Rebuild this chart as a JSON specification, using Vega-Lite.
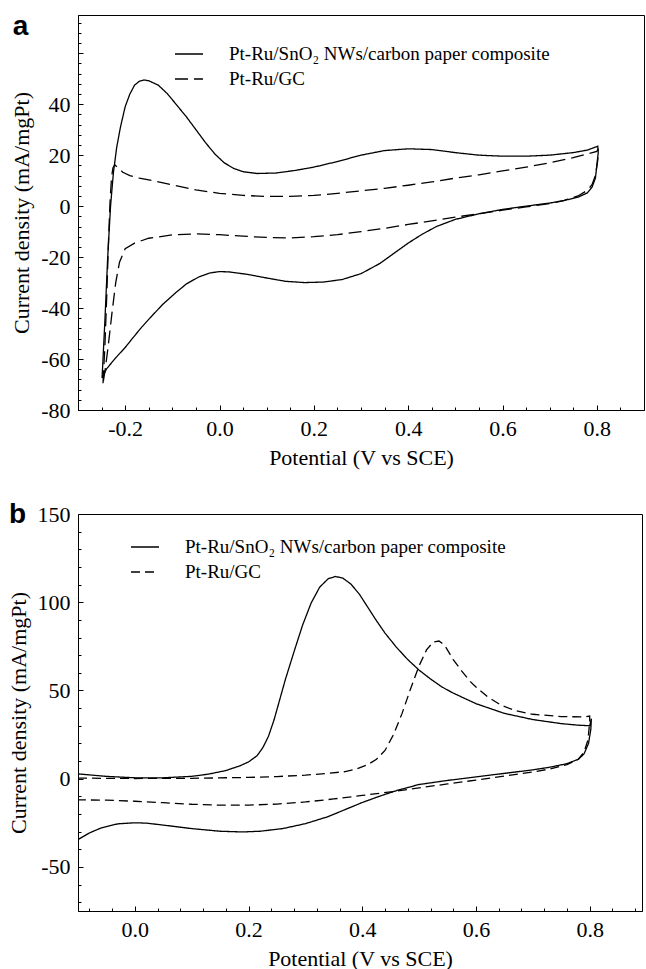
{
  "$schema": "https://vega.github.io/schema/vega-lite/v6.json",
  "padding": {"left": 6, "top": 12, "right": 0, "bottom": 0},
  "background": "white",
  "config": {
    "font": "Liberation Serif",
    "view": {"stroke": "black", "strokeWidth": 1},
    "axis": {"grid": false, "domainColor": "black", "domainWidth": 1, "tickColor": "black", "tickWidth": 1, "labelColor": "black", "titleColor": "black", "labelFont": "Liberation Serif", "titleFont": "Liberation Serif", "labelFontSize": 22, "titleFontSize": 22, "titleFontWeight": "normal", "labelPadding": 13},
    "legend": {"orient": "none", "title": null, "symbolType": "stroke", "symbolSize": 784, "symbolStrokeWidth": 1.3, "symbolStrokeColor": "black", "labelFont": "Liberation Serif", "labelFontSize": 19, "labelColor": "black", "labelOffset": 25, "rowPadding": 0, "padding": 0, "labelLimit": 0},
    "title": {"font": "Liberation Sans", "fontSize": 28, "fontWeight": "bold", "anchor": "start", "frame": "bounds", "color": "black", "offset": -26, "dx": 2}
  },
  "datasets": {
    "a": [
      {"s": "Pt-Ru/SnO₂ NWs/carbon paper composite", "i": 1, "v": -0.249, "c": -67.5},
      {"s": "Pt-Ru/SnO₂ NWs/carbon paper composite", "i": 2, "v": -0.243, "c": -45},
      {"s": "Pt-Ru/SnO₂ NWs/carbon paper composite", "i": 3, "v": -0.237, "c": -20},
      {"s": "Pt-Ru/SnO₂ NWs/carbon paper composite", "i": 4, "v": -0.231, "c": 0},
      {"s": "Pt-Ru/SnO₂ NWs/carbon paper composite", "i": 5, "v": -0.225, "c": 13},
      {"s": "Pt-Ru/SnO₂ NWs/carbon paper composite", "i": 6, "v": -0.218, "c": 23},
      {"s": "Pt-Ru/SnO₂ NWs/carbon paper composite", "i": 7, "v": -0.21, "c": 31},
      {"s": "Pt-Ru/SnO₂ NWs/carbon paper composite", "i": 8, "v": -0.2, "c": 39},
      {"s": "Pt-Ru/SnO₂ NWs/carbon paper composite", "i": 9, "v": -0.19, "c": 44},
      {"s": "Pt-Ru/SnO₂ NWs/carbon paper composite", "i": 10, "v": -0.18, "c": 47.5},
      {"s": "Pt-Ru/SnO₂ NWs/carbon paper composite", "i": 11, "v": -0.17, "c": 49},
      {"s": "Pt-Ru/SnO₂ NWs/carbon paper composite", "i": 12, "v": -0.16, "c": 49.5},
      {"s": "Pt-Ru/SnO₂ NWs/carbon paper composite", "i": 13, "v": -0.15, "c": 49.2},
      {"s": "Pt-Ru/SnO₂ NWs/carbon paper composite", "i": 14, "v": -0.13, "c": 47.5},
      {"s": "Pt-Ru/SnO₂ NWs/carbon paper composite", "i": 15, "v": -0.11, "c": 44},
      {"s": "Pt-Ru/SnO₂ NWs/carbon paper composite", "i": 16, "v": -0.09, "c": 39.5},
      {"s": "Pt-Ru/SnO₂ NWs/carbon paper composite", "i": 17, "v": -0.07, "c": 35},
      {"s": "Pt-Ru/SnO₂ NWs/carbon paper composite", "i": 18, "v": -0.05, "c": 30},
      {"s": "Pt-Ru/SnO₂ NWs/carbon paper composite", "i": 19, "v": -0.03, "c": 25},
      {"s": "Pt-Ru/SnO₂ NWs/carbon paper composite", "i": 20, "v": -0.01, "c": 20.5},
      {"s": "Pt-Ru/SnO₂ NWs/carbon paper composite", "i": 21, "v": 0.01, "c": 17},
      {"s": "Pt-Ru/SnO₂ NWs/carbon paper composite", "i": 22, "v": 0.03, "c": 14.8},
      {"s": "Pt-Ru/SnO₂ NWs/carbon paper composite", "i": 23, "v": 0.05, "c": 13.5},
      {"s": "Pt-Ru/SnO₂ NWs/carbon paper composite", "i": 24, "v": 0.08, "c": 12.8},
      {"s": "Pt-Ru/SnO₂ NWs/carbon paper composite", "i": 25, "v": 0.12, "c": 13},
      {"s": "Pt-Ru/SnO₂ NWs/carbon paper composite", "i": 26, "v": 0.16, "c": 14},
      {"s": "Pt-Ru/SnO₂ NWs/carbon paper composite", "i": 27, "v": 0.2, "c": 15.3},
      {"s": "Pt-Ru/SnO₂ NWs/carbon paper composite", "i": 28, "v": 0.25, "c": 17.5},
      {"s": "Pt-Ru/SnO₂ NWs/carbon paper composite", "i": 29, "v": 0.3, "c": 20},
      {"s": "Pt-Ru/SnO₂ NWs/carbon paper composite", "i": 30, "v": 0.35, "c": 21.8},
      {"s": "Pt-Ru/SnO₂ NWs/carbon paper composite", "i": 31, "v": 0.4, "c": 22.5},
      {"s": "Pt-Ru/SnO₂ NWs/carbon paper composite", "i": 32, "v": 0.45, "c": 22.2},
      {"s": "Pt-Ru/SnO₂ NWs/carbon paper composite", "i": 33, "v": 0.5, "c": 21},
      {"s": "Pt-Ru/SnO₂ NWs/carbon paper composite", "i": 34, "v": 0.55, "c": 20},
      {"s": "Pt-Ru/SnO₂ NWs/carbon paper composite", "i": 35, "v": 0.6, "c": 19.6},
      {"s": "Pt-Ru/SnO₂ NWs/carbon paper composite", "i": 36, "v": 0.65, "c": 19.6},
      {"s": "Pt-Ru/SnO₂ NWs/carbon paper composite", "i": 37, "v": 0.7, "c": 20},
      {"s": "Pt-Ru/SnO₂ NWs/carbon paper composite", "i": 38, "v": 0.75, "c": 21},
      {"s": "Pt-Ru/SnO₂ NWs/carbon paper composite", "i": 39, "v": 0.78, "c": 22},
      {"s": "Pt-Ru/SnO₂ NWs/carbon paper composite", "i": 40, "v": 0.802, "c": 23.5},
      {"s": "Pt-Ru/SnO₂ NWs/carbon paper composite", "i": 41, "v": 0.803, "c": 21},
      {"s": "Pt-Ru/SnO₂ NWs/carbon paper composite", "i": 42, "v": 0.8, "c": 16},
      {"s": "Pt-Ru/SnO₂ NWs/carbon paper composite", "i": 43, "v": 0.797, "c": 11},
      {"s": "Pt-Ru/SnO₂ NWs/carbon paper composite", "i": 44, "v": 0.79, "c": 7.5},
      {"s": "Pt-Ru/SnO₂ NWs/carbon paper composite", "i": 45, "v": 0.78, "c": 5.2},
      {"s": "Pt-Ru/SnO₂ NWs/carbon paper composite", "i": 46, "v": 0.76, "c": 3.5},
      {"s": "Pt-Ru/SnO₂ NWs/carbon paper composite", "i": 47, "v": 0.73, "c": 2.2},
      {"s": "Pt-Ru/SnO₂ NWs/carbon paper composite", "i": 48, "v": 0.7, "c": 1.2},
      {"s": "Pt-Ru/SnO₂ NWs/carbon paper composite", "i": 49, "v": 0.65, "c": 0},
      {"s": "Pt-Ru/SnO₂ NWs/carbon paper composite", "i": 50, "v": 0.6, "c": -1.3},
      {"s": "Pt-Ru/SnO₂ NWs/carbon paper composite", "i": 51, "v": 0.55, "c": -3},
      {"s": "Pt-Ru/SnO₂ NWs/carbon paper composite", "i": 52, "v": 0.5, "c": -5.2},
      {"s": "Pt-Ru/SnO₂ NWs/carbon paper composite", "i": 53, "v": 0.46, "c": -8},
      {"s": "Pt-Ru/SnO₂ NWs/carbon paper composite", "i": 54, "v": 0.43, "c": -11},
      {"s": "Pt-Ru/SnO₂ NWs/carbon paper composite", "i": 55, "v": 0.4, "c": -14.5},
      {"s": "Pt-Ru/SnO₂ NWs/carbon paper composite", "i": 56, "v": 0.37, "c": -18.5},
      {"s": "Pt-Ru/SnO₂ NWs/carbon paper composite", "i": 57, "v": 0.34, "c": -22.5},
      {"s": "Pt-Ru/SnO₂ NWs/carbon paper composite", "i": 58, "v": 0.3, "c": -26.5},
      {"s": "Pt-Ru/SnO₂ NWs/carbon paper composite", "i": 59, "v": 0.26, "c": -28.8},
      {"s": "Pt-Ru/SnO₂ NWs/carbon paper composite", "i": 60, "v": 0.22, "c": -29.8},
      {"s": "Pt-Ru/SnO₂ NWs/carbon paper composite", "i": 61, "v": 0.18, "c": -30},
      {"s": "Pt-Ru/SnO₂ NWs/carbon paper composite", "i": 62, "v": 0.14, "c": -29.5},
      {"s": "Pt-Ru/SnO₂ NWs/carbon paper composite", "i": 63, "v": 0.1, "c": -28.2},
      {"s": "Pt-Ru/SnO₂ NWs/carbon paper composite", "i": 64, "v": 0.06, "c": -26.8},
      {"s": "Pt-Ru/SnO₂ NWs/carbon paper composite", "i": 65, "v": 0.02, "c": -25.8},
      {"s": "Pt-Ru/SnO₂ NWs/carbon paper composite", "i": 66, "v": 0.0, "c": -25.7},
      {"s": "Pt-Ru/SnO₂ NWs/carbon paper composite", "i": 67, "v": -0.02, "c": -26.2},
      {"s": "Pt-Ru/SnO₂ NWs/carbon paper composite", "i": 68, "v": -0.044, "c": -27.8},
      {"s": "Pt-Ru/SnO₂ NWs/carbon paper composite", "i": 69, "v": -0.07, "c": -30.5},
      {"s": "Pt-Ru/SnO₂ NWs/carbon paper composite", "i": 70, "v": -0.093, "c": -34},
      {"s": "Pt-Ru/SnO₂ NWs/carbon paper composite", "i": 71, "v": -0.12, "c": -38.5},
      {"s": "Pt-Ru/SnO₂ NWs/carbon paper composite", "i": 72, "v": -0.143, "c": -43},
      {"s": "Pt-Ru/SnO₂ NWs/carbon paper composite", "i": 73, "v": -0.165, "c": -47.5},
      {"s": "Pt-Ru/SnO₂ NWs/carbon paper composite", "i": 74, "v": -0.185, "c": -52},
      {"s": "Pt-Ru/SnO₂ NWs/carbon paper composite", "i": 75, "v": -0.2, "c": -55.5},
      {"s": "Pt-Ru/SnO₂ NWs/carbon paper composite", "i": 76, "v": -0.22, "c": -59.5},
      {"s": "Pt-Ru/SnO₂ NWs/carbon paper composite", "i": 77, "v": -0.24, "c": -64},
      {"s": "Pt-Ru/SnO₂ NWs/carbon paper composite", "i": 78, "v": -0.249, "c": -67.5},
      {"s": "Pt-Ru/GC", "i": 1, "v": -0.247, "c": -69.5},
      {"s": "Pt-Ru/GC", "i": 2, "v": -0.243, "c": -55},
      {"s": "Pt-Ru/GC", "i": 3, "v": -0.239, "c": -35},
      {"s": "Pt-Ru/GC", "i": 4, "v": -0.235, "c": -12},
      {"s": "Pt-Ru/GC", "i": 5, "v": -0.232, "c": 2},
      {"s": "Pt-Ru/GC", "i": 6, "v": -0.229, "c": 11},
      {"s": "Pt-Ru/GC", "i": 7, "v": -0.226, "c": 15},
      {"s": "Pt-Ru/GC", "i": 8, "v": -0.222, "c": 16.2},
      {"s": "Pt-Ru/GC", "i": 9, "v": -0.215, "c": 15},
      {"s": "Pt-Ru/GC", "i": 10, "v": -0.205, "c": 13.3},
      {"s": "Pt-Ru/GC", "i": 11, "v": -0.19, "c": 12},
      {"s": "Pt-Ru/GC", "i": 12, "v": -0.17, "c": 11},
      {"s": "Pt-Ru/GC", "i": 13, "v": -0.15, "c": 10.3},
      {"s": "Pt-Ru/GC", "i": 14, "v": -0.1, "c": 8.3},
      {"s": "Pt-Ru/GC", "i": 15, "v": -0.05, "c": 6.4},
      {"s": "Pt-Ru/GC", "i": 16, "v": 0.0, "c": 5},
      {"s": "Pt-Ru/GC", "i": 17, "v": 0.05, "c": 4.2},
      {"s": "Pt-Ru/GC", "i": 18, "v": 0.1, "c": 3.8},
      {"s": "Pt-Ru/GC", "i": 19, "v": 0.15, "c": 3.8},
      {"s": "Pt-Ru/GC", "i": 20, "v": 0.2, "c": 4.2},
      {"s": "Pt-Ru/GC", "i": 21, "v": 0.25, "c": 5},
      {"s": "Pt-Ru/GC", "i": 22, "v": 0.3, "c": 6},
      {"s": "Pt-Ru/GC", "i": 23, "v": 0.35, "c": 7},
      {"s": "Pt-Ru/GC", "i": 24, "v": 0.4, "c": 8.2},
      {"s": "Pt-Ru/GC", "i": 25, "v": 0.45, "c": 9.5},
      {"s": "Pt-Ru/GC", "i": 26, "v": 0.5, "c": 11},
      {"s": "Pt-Ru/GC", "i": 27, "v": 0.55, "c": 12.3},
      {"s": "Pt-Ru/GC", "i": 28, "v": 0.6, "c": 13.8},
      {"s": "Pt-Ru/GC", "i": 29, "v": 0.65, "c": 15.3},
      {"s": "Pt-Ru/GC", "i": 30, "v": 0.7, "c": 17},
      {"s": "Pt-Ru/GC", "i": 31, "v": 0.75, "c": 19},
      {"s": "Pt-Ru/GC", "i": 32, "v": 0.8, "c": 21.5},
      {"s": "Pt-Ru/GC", "i": 33, "v": 0.803, "c": 22.5},
      {"s": "Pt-Ru/GC", "i": 34, "v": 0.802, "c": 18},
      {"s": "Pt-Ru/GC", "i": 35, "v": 0.797, "c": 12},
      {"s": "Pt-Ru/GC", "i": 36, "v": 0.79, "c": 8.5},
      {"s": "Pt-Ru/GC", "i": 37, "v": 0.78, "c": 6.2},
      {"s": "Pt-Ru/GC", "i": 38, "v": 0.76, "c": 4},
      {"s": "Pt-Ru/GC", "i": 39, "v": 0.73, "c": 2.2},
      {"s": "Pt-Ru/GC", "i": 40, "v": 0.7, "c": 1},
      {"s": "Pt-Ru/GC", "i": 41, "v": 0.65, "c": -0.3},
      {"s": "Pt-Ru/GC", "i": 42, "v": 0.6, "c": -1.6},
      {"s": "Pt-Ru/GC", "i": 43, "v": 0.55, "c": -3},
      {"s": "Pt-Ru/GC", "i": 44, "v": 0.5, "c": -4.3},
      {"s": "Pt-Ru/GC", "i": 45, "v": 0.45, "c": -5.8},
      {"s": "Pt-Ru/GC", "i": 46, "v": 0.4, "c": -7.2},
      {"s": "Pt-Ru/GC", "i": 47, "v": 0.35, "c": -8.7},
      {"s": "Pt-Ru/GC", "i": 48, "v": 0.3, "c": -10},
      {"s": "Pt-Ru/GC", "i": 49, "v": 0.25, "c": -11.2},
      {"s": "Pt-Ru/GC", "i": 50, "v": 0.2, "c": -12},
      {"s": "Pt-Ru/GC", "i": 51, "v": 0.15, "c": -12.5},
      {"s": "Pt-Ru/GC", "i": 52, "v": 0.1, "c": -12.3},
      {"s": "Pt-Ru/GC", "i": 53, "v": 0.05, "c": -11.8},
      {"s": "Pt-Ru/GC", "i": 54, "v": 0.0, "c": -11.2},
      {"s": "Pt-Ru/GC", "i": 55, "v": -0.05, "c": -10.9},
      {"s": "Pt-Ru/GC", "i": 56, "v": -0.1, "c": -11.3},
      {"s": "Pt-Ru/GC", "i": 57, "v": -0.15, "c": -12.6},
      {"s": "Pt-Ru/GC", "i": 58, "v": -0.18, "c": -14.5},
      {"s": "Pt-Ru/GC", "i": 59, "v": -0.2, "c": -16.7},
      {"s": "Pt-Ru/GC", "i": 60, "v": -0.212, "c": -22},
      {"s": "Pt-Ru/GC", "i": 61, "v": -0.22, "c": -30},
      {"s": "Pt-Ru/GC", "i": 62, "v": -0.228, "c": -42},
      {"s": "Pt-Ru/GC", "i": 63, "v": -0.236, "c": -55},
      {"s": "Pt-Ru/GC", "i": 64, "v": -0.243, "c": -65},
      {"s": "Pt-Ru/GC", "i": 65, "v": -0.247, "c": -69.5}
    ],
    "b": [
      {"s": "Pt-Ru/SnO₂ NWs/carbon paper composite", "i": 1, "v": -0.1, "c": 2.7},
      {"s": "Pt-Ru/SnO₂ NWs/carbon paper composite", "i": 2, "v": -0.05, "c": 1.3},
      {"s": "Pt-Ru/SnO₂ NWs/carbon paper composite", "i": 3, "v": 0.0, "c": 0.5},
      {"s": "Pt-Ru/SnO₂ NWs/carbon paper composite", "i": 4, "v": 0.05, "c": 0.5},
      {"s": "Pt-Ru/SnO₂ NWs/carbon paper composite", "i": 5, "v": 0.1, "c": 1.3},
      {"s": "Pt-Ru/SnO₂ NWs/carbon paper composite", "i": 6, "v": 0.13, "c": 2.6},
      {"s": "Pt-Ru/SnO₂ NWs/carbon paper composite", "i": 7, "v": 0.16, "c": 4.6},
      {"s": "Pt-Ru/SnO₂ NWs/carbon paper composite", "i": 8, "v": 0.185, "c": 7.3},
      {"s": "Pt-Ru/SnO₂ NWs/carbon paper composite", "i": 9, "v": 0.2, "c": 9.5},
      {"s": "Pt-Ru/SnO₂ NWs/carbon paper composite", "i": 10, "v": 0.215, "c": 13},
      {"s": "Pt-Ru/SnO₂ NWs/carbon paper composite", "i": 11, "v": 0.225, "c": 17.5},
      {"s": "Pt-Ru/SnO₂ NWs/carbon paper composite", "i": 12, "v": 0.235, "c": 24},
      {"s": "Pt-Ru/SnO₂ NWs/carbon paper composite", "i": 13, "v": 0.245, "c": 33.5},
      {"s": "Pt-Ru/SnO₂ NWs/carbon paper composite", "i": 14, "v": 0.255, "c": 45},
      {"s": "Pt-Ru/SnO₂ NWs/carbon paper composite", "i": 15, "v": 0.265, "c": 56.5},
      {"s": "Pt-Ru/SnO₂ NWs/carbon paper composite", "i": 16, "v": 0.28, "c": 72},
      {"s": "Pt-Ru/SnO₂ NWs/carbon paper composite", "i": 17, "v": 0.295, "c": 87},
      {"s": "Pt-Ru/SnO₂ NWs/carbon paper composite", "i": 18, "v": 0.31, "c": 99.5},
      {"s": "Pt-Ru/SnO₂ NWs/carbon paper composite", "i": 19, "v": 0.325, "c": 108.5},
      {"s": "Pt-Ru/SnO₂ NWs/carbon paper composite", "i": 20, "v": 0.34, "c": 113.3},
      {"s": "Pt-Ru/SnO₂ NWs/carbon paper composite", "i": 21, "v": 0.353, "c": 114.6},
      {"s": "Pt-Ru/SnO₂ NWs/carbon paper composite", "i": 22, "v": 0.366, "c": 113.6},
      {"s": "Pt-Ru/SnO₂ NWs/carbon paper composite", "i": 23, "v": 0.38, "c": 110.3},
      {"s": "Pt-Ru/SnO₂ NWs/carbon paper composite", "i": 24, "v": 0.395, "c": 104.5},
      {"s": "Pt-Ru/SnO₂ NWs/carbon paper composite", "i": 25, "v": 0.41, "c": 97},
      {"s": "Pt-Ru/SnO₂ NWs/carbon paper composite", "i": 26, "v": 0.425, "c": 89.5},
      {"s": "Pt-Ru/SnO₂ NWs/carbon paper composite", "i": 27, "v": 0.44, "c": 82.5},
      {"s": "Pt-Ru/SnO₂ NWs/carbon paper composite", "i": 28, "v": 0.46, "c": 74.5},
      {"s": "Pt-Ru/SnO₂ NWs/carbon paper composite", "i": 29, "v": 0.48, "c": 67.5},
      {"s": "Pt-Ru/SnO₂ NWs/carbon paper composite", "i": 30, "v": 0.5, "c": 61.5},
      {"s": "Pt-Ru/SnO₂ NWs/carbon paper composite", "i": 31, "v": 0.52, "c": 56.5},
      {"s": "Pt-Ru/SnO₂ NWs/carbon paper composite", "i": 32, "v": 0.54, "c": 52},
      {"s": "Pt-Ru/SnO₂ NWs/carbon paper composite", "i": 33, "v": 0.56, "c": 48.5},
      {"s": "Pt-Ru/SnO₂ NWs/carbon paper composite", "i": 34, "v": 0.6, "c": 42.5},
      {"s": "Pt-Ru/SnO₂ NWs/carbon paper composite", "i": 35, "v": 0.65, "c": 37},
      {"s": "Pt-Ru/SnO₂ NWs/carbon paper composite", "i": 36, "v": 0.7, "c": 33.5},
      {"s": "Pt-Ru/SnO₂ NWs/carbon paper composite", "i": 37, "v": 0.75, "c": 31.2},
      {"s": "Pt-Ru/SnO₂ NWs/carbon paper composite", "i": 38, "v": 0.78, "c": 30.3},
      {"s": "Pt-Ru/SnO₂ NWs/carbon paper composite", "i": 39, "v": 0.8, "c": 30},
      {"s": "Pt-Ru/SnO₂ NWs/carbon paper composite", "i": 40, "v": 0.803, "c": 34},
      {"s": "Pt-Ru/SnO₂ NWs/carbon paper composite", "i": 41, "v": 0.802, "c": 28},
      {"s": "Pt-Ru/SnO₂ NWs/carbon paper composite", "i": 42, "v": 0.798, "c": 20},
      {"s": "Pt-Ru/SnO₂ NWs/carbon paper composite", "i": 43, "v": 0.79, "c": 14},
      {"s": "Pt-Ru/SnO₂ NWs/carbon paper composite", "i": 44, "v": 0.78, "c": 11},
      {"s": "Pt-Ru/SnO₂ NWs/carbon paper composite", "i": 45, "v": 0.76, "c": 8.5},
      {"s": "Pt-Ru/SnO₂ NWs/carbon paper composite", "i": 46, "v": 0.73, "c": 6.5},
      {"s": "Pt-Ru/SnO₂ NWs/carbon paper composite", "i": 47, "v": 0.7, "c": 5},
      {"s": "Pt-Ru/SnO₂ NWs/carbon paper composite", "i": 48, "v": 0.65, "c": 3},
      {"s": "Pt-Ru/SnO₂ NWs/carbon paper composite", "i": 49, "v": 0.6, "c": 1},
      {"s": "Pt-Ru/SnO₂ NWs/carbon paper composite", "i": 50, "v": 0.55, "c": -1},
      {"s": "Pt-Ru/SnO₂ NWs/carbon paper composite", "i": 51, "v": 0.5, "c": -3.3},
      {"s": "Pt-Ru/SnO₂ NWs/carbon paper composite", "i": 52, "v": 0.48, "c": -5},
      {"s": "Pt-Ru/SnO₂ NWs/carbon paper composite", "i": 53, "v": 0.46, "c": -6.8},
      {"s": "Pt-Ru/SnO₂ NWs/carbon paper composite", "i": 54, "v": 0.43, "c": -10},
      {"s": "Pt-Ru/SnO₂ NWs/carbon paper composite", "i": 55, "v": 0.4, "c": -13.5},
      {"s": "Pt-Ru/SnO₂ NWs/carbon paper composite", "i": 56, "v": 0.37, "c": -17.5},
      {"s": "Pt-Ru/SnO₂ NWs/carbon paper composite", "i": 57, "v": 0.34, "c": -21.5},
      {"s": "Pt-Ru/SnO₂ NWs/carbon paper composite", "i": 58, "v": 0.3, "c": -25.5},
      {"s": "Pt-Ru/SnO₂ NWs/carbon paper composite", "i": 59, "v": 0.26, "c": -28.3},
      {"s": "Pt-Ru/SnO₂ NWs/carbon paper composite", "i": 60, "v": 0.22, "c": -29.8},
      {"s": "Pt-Ru/SnO₂ NWs/carbon paper composite", "i": 61, "v": 0.19, "c": -30.2},
      {"s": "Pt-Ru/SnO₂ NWs/carbon paper composite", "i": 62, "v": 0.15, "c": -29.8},
      {"s": "Pt-Ru/SnO₂ NWs/carbon paper composite", "i": 63, "v": 0.1, "c": -28.3},
      {"s": "Pt-Ru/SnO₂ NWs/carbon paper composite", "i": 64, "v": 0.05, "c": -26.3},
      {"s": "Pt-Ru/SnO₂ NWs/carbon paper composite", "i": 65, "v": 0.02, "c": -25.2},
      {"s": "Pt-Ru/SnO₂ NWs/carbon paper composite", "i": 66, "v": 0.0, "c": -25},
      {"s": "Pt-Ru/SnO₂ NWs/carbon paper composite", "i": 67, "v": -0.03, "c": -25.6},
      {"s": "Pt-Ru/SnO₂ NWs/carbon paper composite", "i": 68, "v": -0.06, "c": -28},
      {"s": "Pt-Ru/SnO₂ NWs/carbon paper composite", "i": 69, "v": -0.08, "c": -30.8},
      {"s": "Pt-Ru/SnO₂ NWs/carbon paper composite", "i": 70, "v": -0.1, "c": -34.5},
      {"s": "Pt-Ru/GC", "i": 1, "v": -0.1, "c": 0.3},
      {"s": "Pt-Ru/GC", "i": 2, "v": -0.05, "c": 0.2},
      {"s": "Pt-Ru/GC", "i": 3, "v": 0.0, "c": 0.1},
      {"s": "Pt-Ru/GC", "i": 4, "v": 0.1, "c": 0.2},
      {"s": "Pt-Ru/GC", "i": 5, "v": 0.2, "c": 0.7},
      {"s": "Pt-Ru/GC", "i": 6, "v": 0.25, "c": 1.2},
      {"s": "Pt-Ru/GC", "i": 7, "v": 0.3, "c": 2},
      {"s": "Pt-Ru/GC", "i": 8, "v": 0.34, "c": 3},
      {"s": "Pt-Ru/GC", "i": 9, "v": 0.37, "c": 4},
      {"s": "Pt-Ru/GC", "i": 10, "v": 0.39, "c": 5.5},
      {"s": "Pt-Ru/GC", "i": 11, "v": 0.41, "c": 8},
      {"s": "Pt-Ru/GC", "i": 12, "v": 0.425, "c": 11},
      {"s": "Pt-Ru/GC", "i": 13, "v": 0.44, "c": 16},
      {"s": "Pt-Ru/GC", "i": 14, "v": 0.455, "c": 25},
      {"s": "Pt-Ru/GC", "i": 15, "v": 0.47, "c": 37},
      {"s": "Pt-Ru/GC", "i": 16, "v": 0.485, "c": 51},
      {"s": "Pt-Ru/GC", "i": 17, "v": 0.5, "c": 64},
      {"s": "Pt-Ru/GC", "i": 18, "v": 0.513, "c": 73},
      {"s": "Pt-Ru/GC", "i": 19, "v": 0.525, "c": 77.5},
      {"s": "Pt-Ru/GC", "i": 20, "v": 0.535, "c": 78},
      {"s": "Pt-Ru/GC", "i": 21, "v": 0.545, "c": 75.5},
      {"s": "Pt-Ru/GC", "i": 22, "v": 0.56, "c": 67.5},
      {"s": "Pt-Ru/GC", "i": 23, "v": 0.575, "c": 61},
      {"s": "Pt-Ru/GC", "i": 24, "v": 0.59, "c": 55},
      {"s": "Pt-Ru/GC", "i": 25, "v": 0.6, "c": 52},
      {"s": "Pt-Ru/GC", "i": 26, "v": 0.62, "c": 46.5},
      {"s": "Pt-Ru/GC", "i": 27, "v": 0.645, "c": 41.5},
      {"s": "Pt-Ru/GC", "i": 28, "v": 0.67, "c": 38.5},
      {"s": "Pt-Ru/GC", "i": 29, "v": 0.7, "c": 36.5},
      {"s": "Pt-Ru/GC", "i": 30, "v": 0.75, "c": 35.2},
      {"s": "Pt-Ru/GC", "i": 31, "v": 0.79, "c": 35},
      {"s": "Pt-Ru/GC", "i": 32, "v": 0.8, "c": 35.5},
      {"s": "Pt-Ru/GC", "i": 33, "v": 0.8, "c": 32},
      {"s": "Pt-Ru/GC", "i": 34, "v": 0.797, "c": 22},
      {"s": "Pt-Ru/GC", "i": 35, "v": 0.79, "c": 15},
      {"s": "Pt-Ru/GC", "i": 36, "v": 0.78, "c": 11},
      {"s": "Pt-Ru/GC", "i": 37, "v": 0.76, "c": 8},
      {"s": "Pt-Ru/GC", "i": 38, "v": 0.73, "c": 5.5},
      {"s": "Pt-Ru/GC", "i": 39, "v": 0.7, "c": 3.8},
      {"s": "Pt-Ru/GC", "i": 40, "v": 0.65, "c": 1.5},
      {"s": "Pt-Ru/GC", "i": 41, "v": 0.6, "c": -0.8},
      {"s": "Pt-Ru/GC", "i": 42, "v": 0.55, "c": -3},
      {"s": "Pt-Ru/GC", "i": 43, "v": 0.5, "c": -5.2},
      {"s": "Pt-Ru/GC", "i": 44, "v": 0.45, "c": -7.5},
      {"s": "Pt-Ru/GC", "i": 45, "v": 0.4, "c": -9.5},
      {"s": "Pt-Ru/GC", "i": 46, "v": 0.35, "c": -11.5},
      {"s": "Pt-Ru/GC", "i": 47, "v": 0.3, "c": -13.2},
      {"s": "Pt-Ru/GC", "i": 48, "v": 0.25, "c": -14.4},
      {"s": "Pt-Ru/GC", "i": 49, "v": 0.2, "c": -15},
      {"s": "Pt-Ru/GC", "i": 50, "v": 0.15, "c": -15},
      {"s": "Pt-Ru/GC", "i": 51, "v": 0.1, "c": -14.5},
      {"s": "Pt-Ru/GC", "i": 52, "v": 0.05, "c": -13.6},
      {"s": "Pt-Ru/GC", "i": 53, "v": 0.0, "c": -12.8},
      {"s": "Pt-Ru/GC", "i": 54, "v": -0.05, "c": -12.2},
      {"s": "Pt-Ru/GC", "i": 55, "v": -0.1, "c": -12}
    ]
  },
  "resolve": {"scale": {"strokeDash": "independent"}, "legend": {"strokeDash": "independent"}},
  "spacing": 31,
  "align": "none",
  "vconcat": [
    {
      "width": 566,
      "height": 395,
      "title": {"text": "a"},
      "data": {"name": "a"},
      "resolve": {"axis": {"x": "independent", "y": "independent"}},
      "layer": [
        {
          "mark": {"type": "line", "strokeOpacity": 0},
          "encoding": {
            "x": {"field": "v", "type": "quantitative", "scale": {"domain": [-0.3, 0.9], "nice": false, "zero": false},
                  "axis": {"orient": "bottom", "values": [-0.25, -0.15, -0.1, -0.05, 0.05, 0.1, 0.15, 0.25, 0.3, 0.35, 0.45, 0.5, 0.55, 0.65, 0.7, 0.75, 0.85], "labels": false, "tickSize": -3, "domain": false, "title": null}},
            "y": {"field": "c", "type": "quantitative", "scale": {"domain": [-80, 75], "nice": false, "zero": false},
                  "axis": {"orient": "left", "values": [-76, -72, -68, -64, -56, -52, -48, -44, -36, -32, -28, -24, -16, -12, -8, -4, 4, 8, 12, 16, 24, 28, 32, 36, 44, 48, 52, 56, 64, 68, 72], "labels": false, "tickSize": -3, "domain": false, "title": null}},
            "detail": {"field": "s"},
            "order": {"field": "i"}
          }
        },
        {
          "mark": {"type": "line", "color": "black", "strokeWidth": 1.3, "clip": true},
          "encoding": {
            "x": {"field": "v", "type": "quantitative", "scale": {"domain": [-0.3, 0.9], "nice": false, "zero": false},
                  "axis": {"orient": "bottom", "values": [-0.2, 0, 0.2, 0.4, 0.6, 0.8], "format": ".1f", "labelExpr": "replace(datum.label, '−', '-')", "tickSize": -5, "title": "Potential (V vs SCE)", "titlePadding": 8}},
            "y": {"field": "c", "type": "quantitative", "scale": {"domain": [-80, 75], "nice": false, "zero": false},
                  "axis": {"orient": "left", "values": [-80, -60, -40, -20, 0, 20, 40, 60], "labelExpr": "datum.value == 60 ? '' : replace(datum.label, '−', '-')", "tickSize": -5, "title": "Current density (mA/mgPt)", "titlePadding": 7}},
            "strokeDash": {"field": "s", "type": "nominal",
                  "scale": {"domain": ["Pt-Ru/SnO₂ NWs/carbon paper composite", "Pt-Ru/GC"], "range": [[1, 0], [13, 6]]},
                  "legend": {"legendX": 96, "legendY": 24}},
            "order": {"field": "i"}
          }
        }
      ]
    },
    {
      "width": 564,
      "height": 397,
      "title": {"text": "b"},
      "data": {"name": "b"},
      "resolve": {"axis": {"x": "independent", "y": "independent"}},
      "layer": [
        {
          "mark": {"type": "line", "strokeOpacity": 0},
          "encoding": {
            "x": {"field": "v", "type": "quantitative", "scale": {"domain": [-0.1, 0.892], "nice": false, "zero": false},
                  "axis": {"orient": "bottom", "values": [-0.08, -0.04, 0.04, 0.08, 0.12, 0.16, 0.24, 0.28, 0.32, 0.36, 0.44, 0.48, 0.52, 0.56, 0.64, 0.68, 0.72, 0.76, 0.84, 0.88], "labels": false, "tickSize": -3, "domain": false, "title": null}},
            "y": {"field": "c", "type": "quantitative", "scale": {"domain": [-75, 150], "nice": false, "zero": false},
                  "axis": {"orient": "left", "values": [-70, -60, -40, -30, -20, -10, 10, 20, 30, 40, 60, 70, 80, 90, 110, 120, 130, 140], "labels": false, "tickSize": -3, "domain": false, "title": null}},
            "detail": {"field": "s"},
            "order": {"field": "i"}
          }
        },
        {
          "mark": {"type": "line", "color": "black", "strokeWidth": 1.3, "clip": true},
          "encoding": {
            "x": {"field": "v", "type": "quantitative", "scale": {"domain": [-0.1, 0.892], "nice": false, "zero": false},
                  "axis": {"orient": "bottom", "values": [0, 0.2, 0.4, 0.6, 0.8], "format": ".1f", "labelExpr": "replace(datum.label, '−', '-')", "tickSize": -5, "title": "Potential (V vs SCE)", "titlePadding": 8}},
            "y": {"field": "c", "type": "quantitative", "scale": {"domain": [-75, 150], "nice": false, "zero": false},
                  "axis": {"orient": "left", "values": [-50, 0, 50, 100, 150], "labelExpr": "replace(datum.label, '−', '-')", "tickSize": -5, "title": "Current density (mA/mgPt)", "titlePadding": 7}},
            "strokeDash": {"field": "s", "type": "nominal",
                  "scale": {"domain": ["Pt-Ru/SnO₂ NWs/carbon paper composite", "Pt-Ru/GC"], "range": [[1, 0], [9, 5]]},
                  "legend": {"legendX": 52, "legendY": 18}},
            "order": {"field": "i"}
          }
        }
      ]
    }
  ]
}
